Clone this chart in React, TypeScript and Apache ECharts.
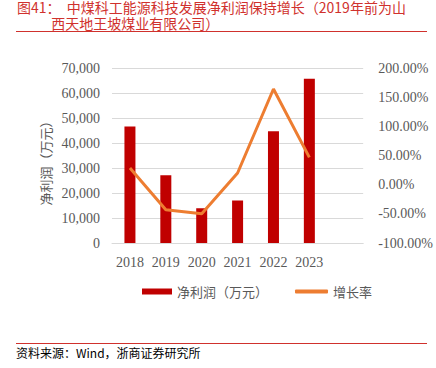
import React, { useEffect, useRef } from "react";
import * as echarts from "echarts";

const categories = ["2018", "2019", "2020", "2021", "2022", "2023", ""];
const netProfit = [46600, 27100, 13900, 17000, 44700, 65700, null];
const growthRate = [0.286, -0.43, -0.497, 0.2, 1.64, 0.468, null];
const leftTicks = { min: 0, max: 70000, interval: 10000 };
const rightTicks = { min: -1, max: 2, interval: 0.5 };

const SERIF = "'Liberation Serif', 'Noto Sans CJK SC', serif";
const CJK = "'Noto Sans CJK SC', 'Liberation Serif', sans-serif";
const RED = "#C00000";

const titleText =
  "图41：  中煤科工能源科技发展净利润保持增长（2019年前为山\n\u3000\u3000  西天地王坡煤业有限公司）";

export default function App() {
  const ref = useRef<HTMLDivElement>(null);
  useEffect(() => {
    if (!ref.current) return;
    const chart = echarts.init(ref.current, null, { renderer: "svg" });
    chart.setOption({
      animation: false,
      backgroundColor: "#ffffff",
      grid: { left: 112, right: 65, top: 68, bottom: 125, containLabel: false },
      xAxis: {
        type: "category",
        data: categories,
        axisLine: { show: true, lineStyle: { color: "#D9D9D9", width: 1 } },
        axisTick: { show: false },
        axisLabel: { color: "#595959", fontSize: 14, fontFamily: SERIF, margin: 12, interval: 0 },
      },
      yAxis: [
        {
          type: "value",
          ...leftTicks,
          axisLine: { show: false },
          axisTick: { show: false },
          splitLine: { show: true, lineStyle: { color: "#D9D9D9", width: 1 } },
          axisLabel: {
            color: "#595959",
            fontSize: 14,
            fontFamily: SERIF,
            margin: 12,
            formatter: (v: number) => v.toLocaleString("en-US"),
          },
        },
        {
          type: "value",
          ...rightTicks,
          position: "right",
          axisLine: { show: false },
          axisTick: { show: false },
          splitLine: { show: false },
          axisLabel: {
            color: "#595959",
            fontSize: 14,
            fontFamily: SERIF,
            margin: 15,
            formatter: (v: number) => (v * 100).toFixed(2) + "%",
          },
        },
      ],
      legend: [
        {
          data: [{ name: "净利润（万元）", icon: "rect" }],
          left: 137,
          top: 280,
          itemWidth: 30,
          itemHeight: 6,
          textStyle: { color: "#595959", fontSize: 13, fontFamily: CJK },
        },
        {
          data: [{ name: "增长率", icon: "roundRect" }],
          left: 290,
          top: 280,
          itemWidth: 33,
          itemHeight: 4,
          textStyle: { color: "#595959", fontSize: 13, fontFamily: CJK },
        },
      ],
      series: [
        {
          name: "净利润（万元）",
          type: "bar",
          data: netProfit,
          barWidth: 11,
          itemStyle: { color: RED },
          yAxisIndex: 0,
        },
        {
          name: "增长率",
          type: "line",
          data: growthRate,
          yAxisIndex: 1,
          symbol: "none",
          lineStyle: { color: "#ED7D31", width: 3 },
          itemStyle: { color: "#ED7D31" },
        },
      ],
      graphic: [
        {
          type: "text",
          x: 17,
          y: -1,
          style: {
            text: titleText,
            fill: "#D0312D",
            font: `14px ${CJK}`,
            lineHeight: 16,
            verticalAlign: "top",
          },
        },
        {
          type: "line",
          shape: { x1: 16, y1: 31.5, x2: 427, y2: 31.5 },
          style: { stroke: "#D0312D", lineWidth: 1 },
        },
        {
          type: "text",
          x: 45,
          y: 160,
          rotation: Math.PI / 2,
          style: {
            text: "净利润（万元）",
            fill: "#595959",
            font: `13px ${CJK}`,
            align: "center",
            verticalAlign: "middle",
          },
        },
        {
          type: "line",
          shape: { x1: 16, y1: 343.5, x2: 427, y2: 343.5 },
          style: { stroke: "#D0312D", lineWidth: 1 },
        },
        {
          type: "text",
          x: 16,
          y: 352,
          style: {
            text: "资料来源：Wind，浙商证券研究所",
            fill: "#000000",
            font: `12px ${CJK}`,
            verticalAlign: "middle",
          },
        },
      ],
    });
    return () => chart.dispose();
  }, []);
  return (
    <div
      ref={ref}
      style={{ position: "absolute", left: 0, top: 0, width: 436, height: 368 }}
    />
  );
}
